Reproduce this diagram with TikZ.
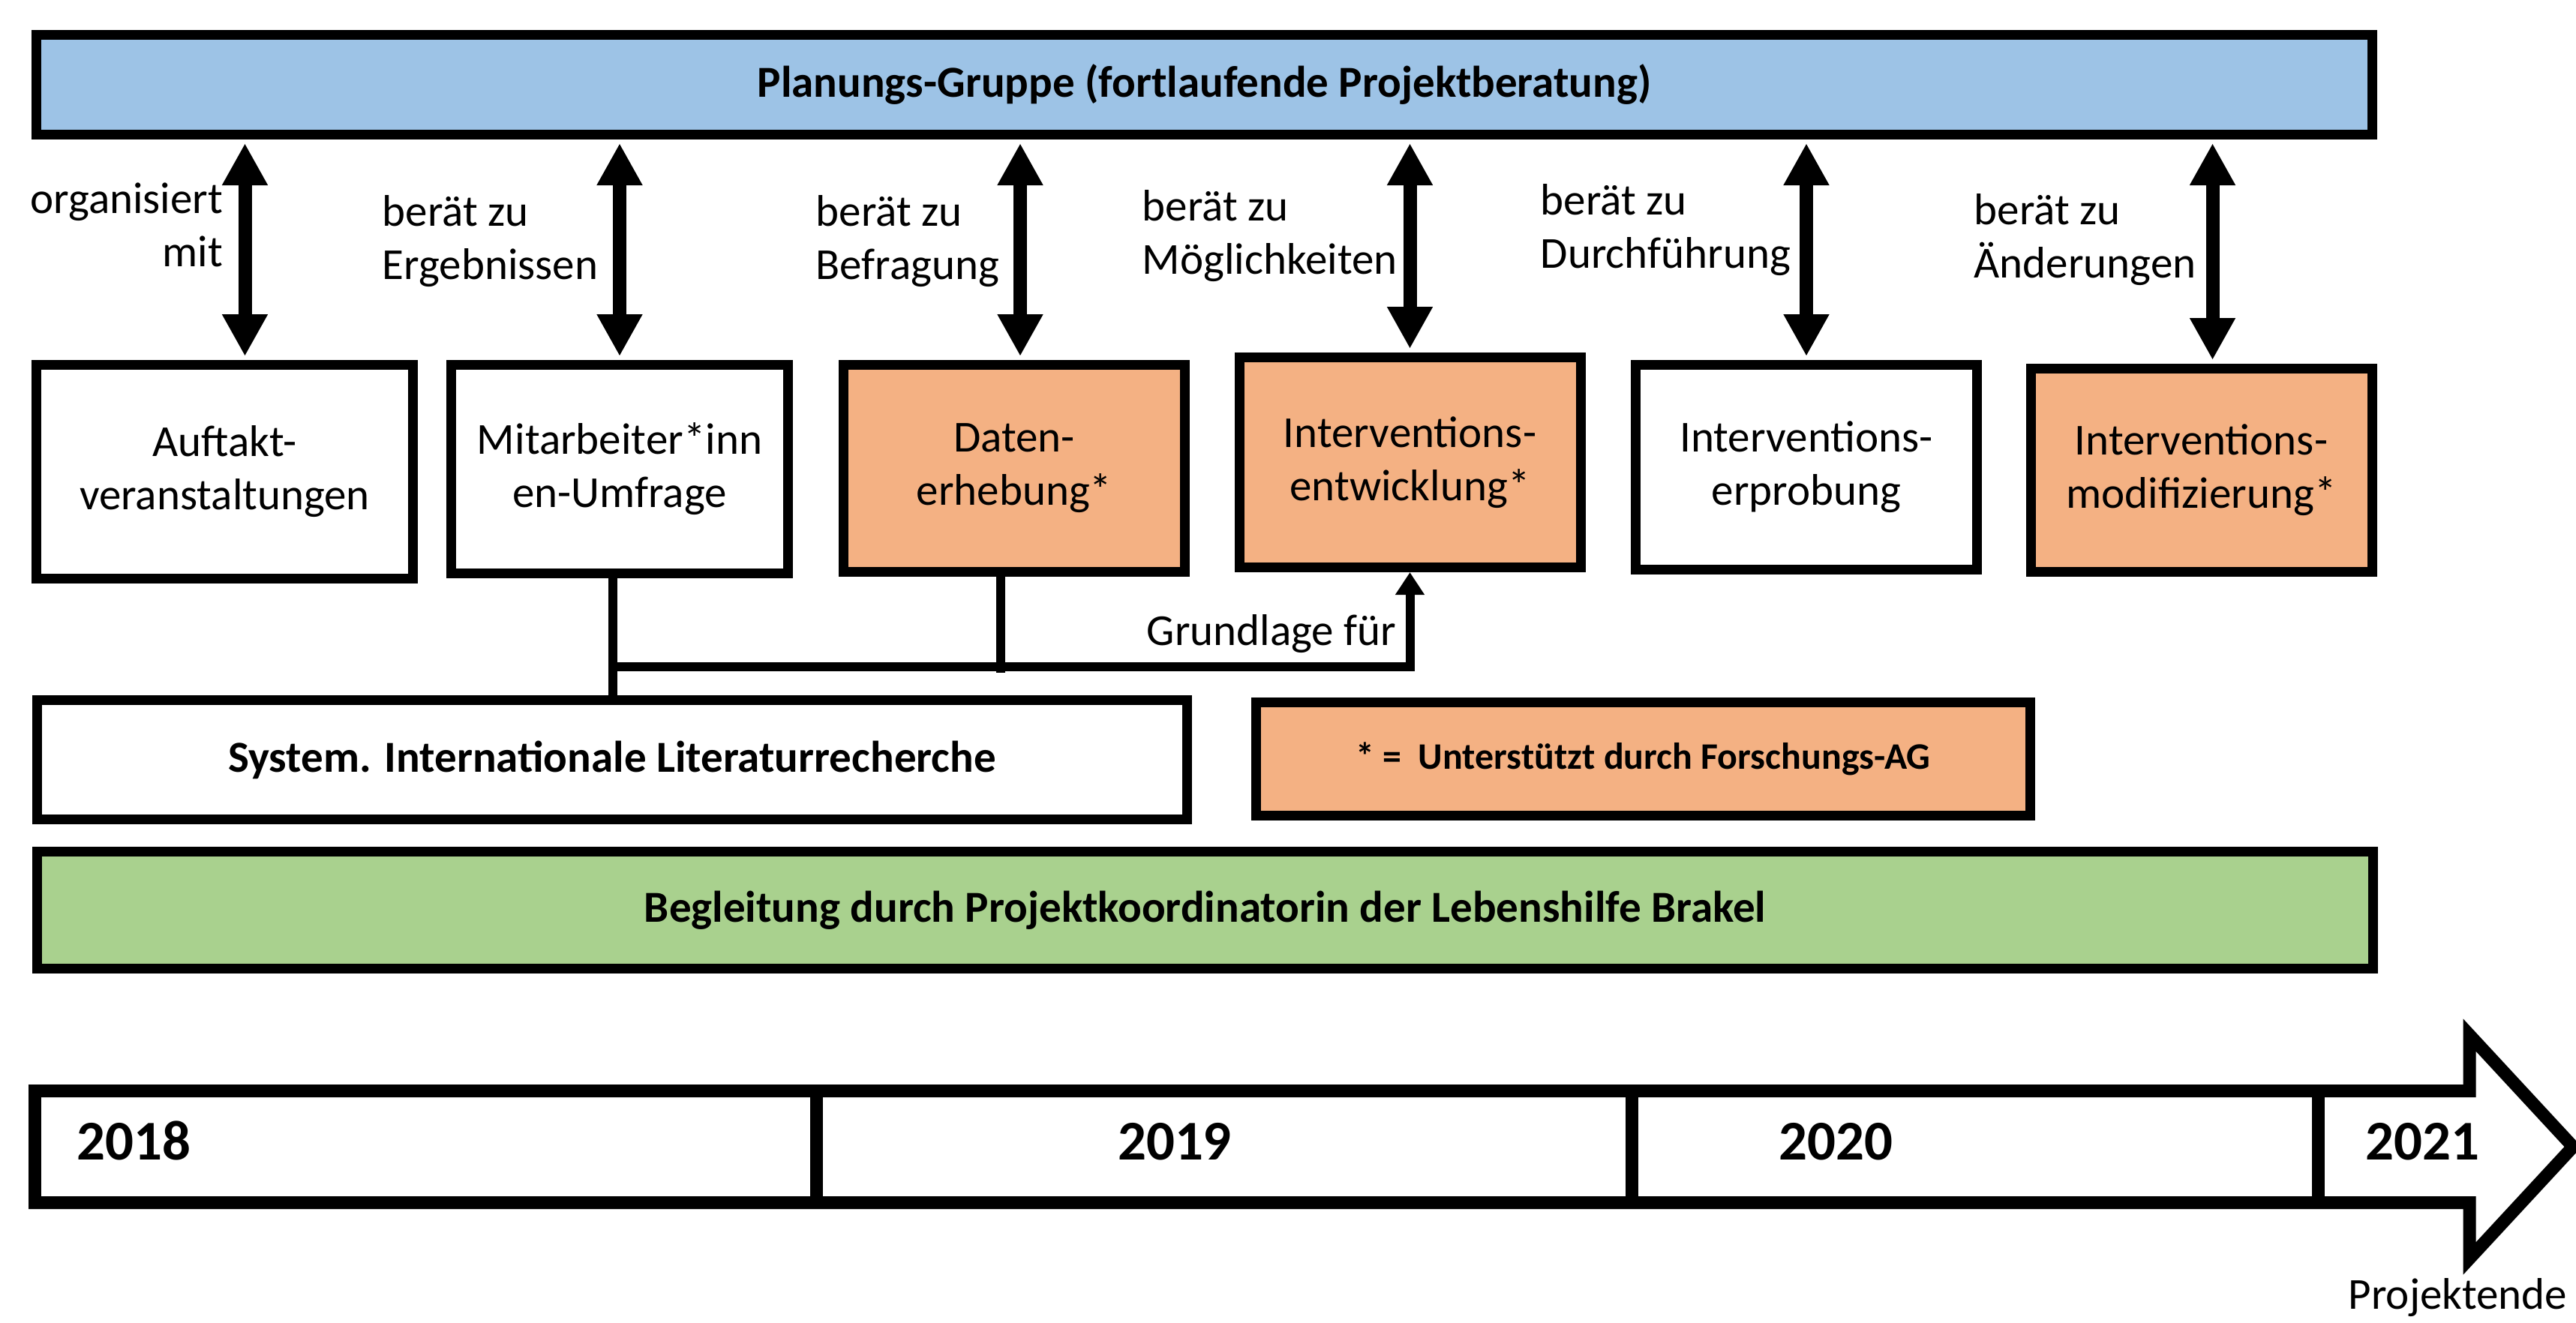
\documentclass[tikz,border=0pt]{standalone}
\usepackage{fontspec}
\setmainfont{Carlito}
\usepackage{xcolor}
\usepackage{tikz}
\usetikzlibrary{arrows.meta}
\definecolor{planblue}{HTML}{9DC3E6}
\definecolor{agorange}{HTML}{F4B183}
\definecolor{leitgreen}{HTML}{A9D18E}
\tikzset{
  lbl/.style={font=\fontsize{16.8}{20.2}\selectfont,inner sep=0pt},
  bar/.style={draw,line width=0.13cm,minimum width=31.14cm,align=center,font=\fontsize{16.8}{20.2}\selectfont\bfseries},
  phase/.style={draw,line width=0.13cm,fill=white,minimum width=4.55cm,minimum height=2.76cm,align=center,font=\fontsize{16.8}{20.2}\selectfont},
  agbox/.style={phase,fill=agorange},
  bigarr/.style={{Triangle[width=0.57cm,length=0.56cm]}-{Triangle[width=0.57cm,length=0.56cm]},line width=0.18cm,shorten <=0.05cm,shorten >=0.05cm},
  conn/.style={line width=0.12cm},
  tl/.style={line width=0.17cm},
  yr/.style={font=\fontsize{21.3}{25}\selectfont\bfseries,inner sep=0pt},
}

\begin{document}
\begin{tikzpicture}
\useasboundingbox (0,0) rectangle (34.34,-17.63);
\node[bar,fill=planblue,minimum height=1.33cm] (plan) at (16.055,-1.13) {\raisebox{-0.06cm}{Planungs-Gruppe (fortlaufende Projektberatung)}};

\node[phase,minimum width=5.02cm,minimum height=2.85cm] (auf) at (2.995,-6.29) {Auftakt-\\veranstaltungen};
\node[phase,minimum width=4.49cm,minimum height=2.78cm] (mit) at (8.26,-6.255) {Mitarbeiter*inn\\en-Umfrage};
\node[agbox] (dat) at (13.52,-6.245) {Daten-\\erhebung*};
\node[agbox,minimum height=2.80cm] (ent) at (18.795,-6.165) {Interventions-\\entwicklung*};
\node[phase,minimum height=2.73cm] (erp) at (24.08,-6.23) {Interventions-\\erprobung};
\node[agbox,minimum height=2.71cm] (mod) at (29.345,-6.27) {Interventions-\\modifizierung*};

\foreach \n/\dx in {auf/0.27,mit/0,dat/0.08,ent/0,erp/0,mod/0.15} {
  \coordinate (t\n) at ([xshift=\dx cm]\n.north);
  \draw[bigarr] (plan.south -| t\n) -- (t\n);
}

\node[lbl,align=right,anchor=east] (lorg) at (2.98,-3.00) {organisiert\\mit};
\foreach \i/\x/\y/\t in {erg/5.09/-3.22/Ergebnissen,bef/10.87/-3.22/Befragung,moe/15.22/-3.145/Möglichkeiten,dur/20.53/-3.07/Durchführung,aen/26.31/-3.195/Änderungen}
  \node[lbl,align=left,anchor=west] (l\i) at (\x,\y) {berät zu\\\t};

\node[phase,minimum width=15.33cm,minimum height=1.59cm,font=\fontsize{16.8}{20.2}\selectfont\bfseries] (lit) at (8.16,-10.13) {System. Internationale Literaturrecherche};
\node[agbox,minimum width=10.32cm,minimum height=1.51cm,font=\fontsize{14.2}{17}\selectfont\bfseries] (leg) at (21.905,-10.12) {*~=~~Unterstützt durch Forschungs-AG};
\node[bar,fill=leitgreen,minimum height=1.56cm] (begl) at (16.065,-12.135) {Begleitung durch Projektkoordinatorin der Lebenshilfe Brakel};

\coordinate (j1) at (8.17,-8.89);
\coordinate (j2) at (13.34,-8.89);
\draw[conn] (mit.south -| j1) -- (lit.north -| j1);
\draw[conn] (dat.south -| j2) -- ([yshift=-0.08cm]j2);
\draw[conn,-{Triangle[width=0.37cm,length=0.3cm]}] (j1) -- (j1 -| ent.south) -- (ent.south);
\node[lbl,anchor=base east] (grund) at (18.62,-8.60) {Grundlage für};

\draw[tl,fill=white] (0.465,-14.545) -- (32.92,-14.545) -- (32.92,-13.80) -- (34.30,-15.29) -- (32.92,-16.78) -- (32.92,-16.035) -- (0.465,-16.035) -- cycle;
\foreach \x in {10.88,21.75,30.90} \draw[tl] (\x,-14.545) -- (\x,-16.035);
\node[yr,anchor=base west] (y18) at (1.02,-15.46) {2018};
\node[yr,anchor=base] (y19) at (15.66,-15.46) {2019};
\node[yr,anchor=base] (y20) at (24.47,-15.46) {2020};
\node[yr,anchor=base] (y21) at (32.29,-15.46) {2021};
\node[lbl,anchor=base west] (ende) at (31.30,-17.45) {Projektende};
\end{tikzpicture}
\end{document}
